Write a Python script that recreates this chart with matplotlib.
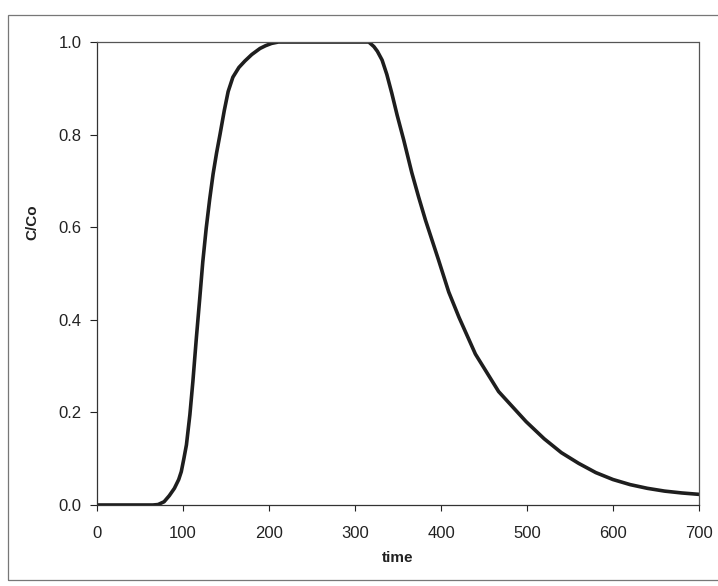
import matplotlib
matplotlib.use("Agg")
import matplotlib.pyplot as plt
from matplotlib.patches import Rectangle

# ── data ─────────────────────────────────────────────────────────────────────
time = [0, 40, 65, 71, 78, 84, 90, 95, 98, 101, 104, 108, 111.5, 115.5,
        119.5, 123, 127, 131, 135, 139, 143, 148, 152.5, 158, 165, 172,
        180, 189.5, 196, 203, 211, 250, 300, 316, 322, 326, 331.5, 337,
        342.7, 349, 356.7, 366, 374, 382, 397, 409, 421, 440, 467, 499,
        520, 540, 560, 580, 600, 620, 640, 660, 680, 700]
c_co = [0, 0, 0, 0.001, 0.007, 0.02, 0.036, 0.055, 0.072, 0.10, 0.13, 0.195,
        0.267, 0.36, 0.447, 0.525, 0.598, 0.66, 0.715, 0.76, 0.80, 0.852,
        0.893, 0.924, 0.945, 0.959, 0.973, 0.986, 0.992, 0.997, 1.0, 1.0,
        1.0, 1.0, 0.99, 0.98, 0.961, 0.93, 0.89, 0.842, 0.788, 0.718, 0.665,
        0.615, 0.53, 0.46, 0.405, 0.326, 0.245, 0.18, 0.143, 0.113, 0.09,
        0.07, 0.055, 0.044, 0.036, 0.03, 0.026, 0.023]

x_ticks = [0, 100, 200, 300, 400, 500, 600, 700]
y_ticks = [0.0, 0.2, 0.4, 0.6, 0.8, 1.0]

plt.rcParams["font.family"] = ["Liberation Sans", "DejaVu Sans"]

fig = plt.figure(figsize=(7.18, 5.86), dpi=100)
ax = fig.add_axes([97 / 718, 1 - 505 / 586, 602 / 718, 463 / 586])

# chart-area border (Excel style)
fig.patches.append(Rectangle((8 / 718, 1 - 580 / 586), 1.2, 565 / 586,
                             transform=fig.transFigure, fill=False,
                             edgecolor="#777777", linewidth=0.9))

ax.plot(time, c_co, color="#1e1e1e", linewidth=2.6, solid_joinstyle="round")

ax.set_xlim(0, 700)
ax.set_ylim(0, 1.0)
ax.set_xticks(x_ticks)
ax.set_yticks(y_ticks)
ax.set_yticklabels([f"{v:.1f}" for v in y_ticks])

for side in ["top", "right"]:
    ax.spines[side].set_linestyle((0, (1, 1)))
    ax.spines[side].set_color("#555555")
    ax.spines[side].set_linewidth(0.9)
for side in ["left", "bottom"]:
    ax.spines[side].set_color("#333333")
    ax.spines[side].set_linewidth(0.9)

ax.tick_params(axis="y", direction="out", length=5, width=0.8, pad=6,
               labelsize=12, colors="#222222")
ax.tick_params(axis="x", direction="out", length=4, width=0.8, pad=11,
               labelsize=12, colors="#222222")

ax.set_xlabel("time", fontsize=11, fontweight="bold", color="#222222")
ax.set_ylabel("C/Co", fontsize=11, fontweight="bold", color="#222222")
ax.xaxis.set_label_coords(0.5, -0.10)
ax.yaxis.set_label_coords(-0.095, 0.61)

fig.savefig("out.png", dpi=100)
